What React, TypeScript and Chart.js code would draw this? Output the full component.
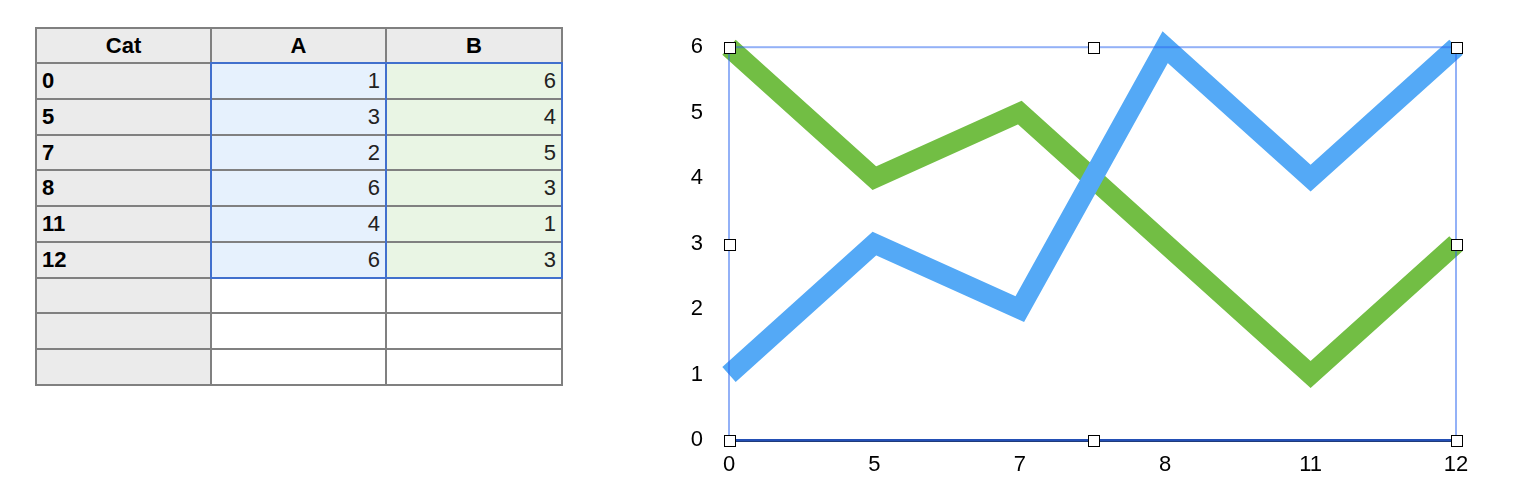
import React, { useEffect, useRef } from "react";
import { Chart, registerables } from "chart.js";

Chart.register(...registerables);

const categories: string[] = ["0", "5", "7", "8", "11", "12"];
const seriesA: number[] = [1, 3, 2, 6, 4, 6];
const seriesB: number[] = [6, 4, 5, 3, 1, 3];
const tableHeaders: string[] = ["Cat", "A", "B"];
const yTicksMin = 0;
const yTicksMax = 6;

const FONT = "'Liberation Sans', Arial, Helvetica, sans-serif";
const BLUE = "rgb(84,169,246)";
const GREEN = "rgb(114,190,68)";
const LINE_W = 20;

const colX = [36, 211, 386, 562];
const rowY = [28, 63, 99, 135, 170, 206, 242, 278, 313, 349, 385];

const selectionPlugin = {
  id: "selectionFrame",
  afterDatasetsDraw(chart: any) {
    const { ctx, chartArea } = chart;
    const { left, top, right, bottom } = chartArea;
    ctx.save();
    ctx.strokeStyle = "rgba(40,100,240,0.5)";
    ctx.lineWidth = 2;
    ctx.strokeRect(left, top, right - left, bottom - top);
    ctx.restore();
  },
  afterDraw(chart: any) {
    const { ctx, chartArea } = chart;
    const { left, top, right, bottom } = chartArea;
    const mx = Math.round((left + right) / 2);
    const my = Math.round((top + bottom) / 2);
    const pts = [
      [left, top], [mx, top], [right, top],
      [left, my], [right, my],
      [left, bottom], [mx, bottom], [right, bottom],
    ];
    ctx.save();
    ctx.fillStyle = "#ffffff";
    ctx.strokeStyle = "#000000";
    ctx.lineWidth = 1;
    const s = 11;
    for (const [x, y] of pts) {
      const x0 = Math.round(x - s / 2) + 0.5;
      const y0 = Math.round(y - s / 2) + 0.5;
      ctx.fillRect(x0, y0, s, s);
      ctx.strokeRect(x0, y0, s, s);
    }
    ctx.restore();
  },
};

function DataTable() {
  const rows: { cat: string; a: number; b: number }[] = categories.map((c, i) => ({
    cat: c,
    a: seriesA[i],
    b: seriesB[i],
  }));
  const cells: React.ReactNode[] = [];
  const totalRows = 10;
  for (let r = 0; r < totalRows; r++) {
    for (let c = 0; c < 3; c++) {
      const x = colX[c];
      const y = rowY[r];
      const w = colX[c + 1] - x;
      const h = rowY[r + 1] - y;
      let bg = "#ffffff";
      let text = "";
      let bold = false;
      let align: "left" | "right" | "center" = "right";
      let color = "#222";
      if (r === 0) {
        bg = "#ebebeb";
        text = tableHeaders[c];
        bold = true;
        align = "center";
        color = "#000";
      } else if (c === 0) {
        bg = "#ebebeb";
        bold = true;
        align = "left";
        color = "#000";
        text = rows[r - 1] ? rows[r - 1].cat : "";
      } else {
        const d = rows[r - 1];
        if (d) {
          bg = c === 1 ? "#e6f1fd" : "#e9f5e4";
          text = String(c === 1 ? d.a : d.b);
        }
      }
      cells.push(
        <div
          key={`c${r}-${c}`}
          style={{
            position: "absolute",
            left: x - 8,
            top: y - 8,
            width: w,
            height: h,
            background: bg,
            boxSizing: "border-box",
            display: "flex",
            alignItems: "center",
            justifyContent: align === "left" ? "flex-start" : align === "right" ? "flex-end" : "center",
            padding: "0 6px",
            fontFamily: FONT,
            fontSize: 22,
            fontWeight: bold ? 700 : 400,
            color,
          }}
        >
          {text}
        </div>
      );
    }
  }
  const lines: React.ReactNode[] = [];
  rowY.forEach((y, i) => {
    lines.push(
      <div key={`h${i}`} style={{ position: "absolute", left: colX[0] - 8 - 1, top: y - 8 - 1, width: colX[3] - colX[0] + 2, height: 2, background: "#808080" }} />
    );
  });
  colX.forEach((x, i) => {
    lines.push(
      <div key={`v${i}`} style={{ position: "absolute", left: x - 8 - 1, top: rowY[0] - 8 - 1, width: 2, height: rowY[rowY.length - 1] - rowY[0] + 2, background: "#808080" }} />
    );
  });
  const selTop = rowY[1];
  const selBottom = rowY[1 + rows.length];
  [1, 2].forEach((c) => {
    lines.push(
      <div
        key={`sel${c}`}
        style={{
          position: "absolute",
          left: colX[c] - 8 - 1,
          top: selTop - 8 - 1,
          width: colX[c + 1] - colX[c] + 2,
          height: selBottom - selTop + 2,
          border: "2px solid #4170cd",
          boxSizing: "border-box",
        }}
      />
    );
  });
  return (
    <>
      {cells}
      {lines}
    </>
  );
}

export default function App() {
  const canvasRef = useRef<HTMLCanvasElement | null>(null);

  useEffect(() => {
    const canvas = canvasRef.current;
    if (!canvas) return;
    const chart = new Chart(canvas, {
      type: "line",
      data: {
        labels: categories,
        datasets: [
          {
            label: "A",
            data: seriesA,
            borderColor: BLUE,
            backgroundColor: BLUE,
            borderWidth: LINE_W,
            pointRadius: 0,
            pointHoverRadius: 0,
            tension: 0,
            borderJoinStyle: "miter",
            borderCapStyle: "butt",
            clip: false as any,
            fill: false,
          },
          {
            label: "B",
            data: seriesB,
            borderColor: GREEN,
            backgroundColor: GREEN,
            borderWidth: LINE_W,
            pointRadius: 0,
            pointHoverRadius: 0,
            tension: 0,
            borderJoinStyle: "miter",
            borderCapStyle: "butt",
            clip: false as any,
            fill: false,
          },
        ],
      },
      options: {
        animation: false,
        responsive: false,
        maintainAspectRatio: false,
        devicePixelRatio: 1,
        layout: { padding: { top: 38, right: 54, left: 0, bottom: 0 } },
        plugins: {
          legend: { display: false },
          tooltip: { enabled: false },
          title: { display: false },
        },
        scales: {
          x: {
            type: "category",
            offset: false,
            z: 1,
            grid: { display: false, drawTicks: false },
            border: { display: true, color: "#1f3b7a", width: 3 },
            ticks: {
              font: { family: FONT, size: 22 },
              color: "#000",
              padding: 12,
              maxRotation: 0,
              autoSkip: false,
            },
            afterFit: (s: any) => {
              s.height = 54;
            },
          },
          y: {
            type: "linear",
            min: yTicksMin,
            max: yTicksMax,
            grid: { display: false, drawTicks: false },
            border: { display: false },
            ticks: {
              stepSize: 1,
              font: { family: FONT, size: 22 },
              color: "#000",
              padding: 26,
            },
            afterFit: (s: any) => {
              s.width = 49;
            },
          },
        },
      },
      plugins: [selectionPlugin],
    });
    return () => chart.destroy();
  }, []);

  return (
    <div style={{ position: "relative", width: 1510, height: 486 }}>
      <DataTable />
      <canvas
        ref={canvasRef}
        width={830}
        height={486}
        style={{ position: "absolute", left: 672, top: 0, width: 830, height: 486 }}
      />
    </div>
  );
}
